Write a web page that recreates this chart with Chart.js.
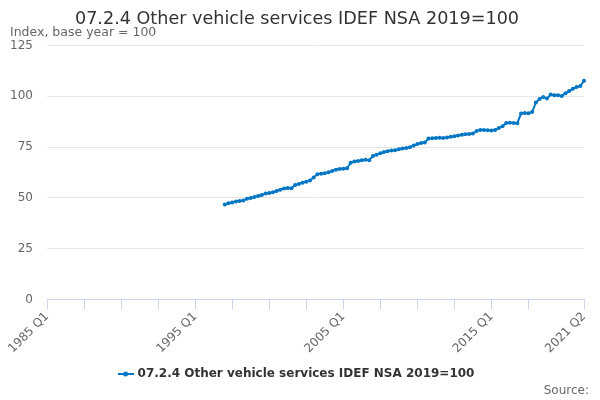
<!DOCTYPE html>
<html>
<head>
<meta charset="utf-8">
<script src="https://cdn.jsdelivr.net/npm/chart.js@4"></script>
<style>
  html, body { margin: 0; padding: 0; background: #fff; }
  #wrap { width: 600px; height: 400px; position: relative; }
</style>
</head>
<body>
<div id="wrap"><canvas id="chart"></canvas></div>
<script>
const chartTitle = "07.2.4 Other vehicle services IDEF NSA 2019=100";
const unitLabel = "Index, base year = 100";
const seriesName = "07.2.4 Other vehicle services IDEF NSA 2019=100";
const firstYear = 1985;
const lastYear = 2021;
const lastQuarter = 2;
const dataStart = "1997 Q1";
const yTicks = [0, 25, 50, 75, 100, 125];

// quarterly index values from 1997 Q1 to 2021 Q2
const values = [
  46.8, 47.4, 47.8, 48.2, 48.5, 48.7, 49.6, 50.0, 50.4, 50.9,
  51.4, 52.2, 52.4, 52.8, 53.4, 54.0, 54.6, 54.9, 54.7, 56.4,
  56.9, 57.5, 57.9, 58.6, 60.1, 61.6, 61.9, 62.2, 62.6, 63.3,
  63.9, 64.2, 64.4, 64.6, 67.3, 67.9, 68.2, 68.5, 68.8, 68.6,
  70.6, 71.3, 72.0, 72.6, 73.0, 73.3, 73.5, 74.0, 74.3, 74.6,
  74.9, 75.8, 76.5, 77.0, 77.3, 79.2, 79.4, 79.5, 79.6, 79.5,
  79.8, 80.1, 80.4, 80.7, 81.1, 81.4, 81.5, 81.7, 82.9, 83.5,
  83.4, 83.3, 83.2, 83.4, 84.4, 85.3, 86.9, 87.0, 86.9, 86.8,
  91.6, 91.8, 91.7, 92.3, 97.0, 98.7, 99.7, 98.9, 100.9, 100.6,
  100.5, 100.2, 101.5, 102.6, 103.7, 104.6, 105.1, 107.7
];

const labels = [];
for (let y = firstYear; y <= lastYear; y++) {
  for (let q = 1; q <= 4; q++) {
    if (y === lastYear && q > lastQuarter) break;
    labels.push(y + " Q" + q);
  }
}
const offset = labels.indexOf(dataStart);
const seriesData = labels.map((l, i) => (i >= offset ? values[i - offset] : null));
const lastIdx = labels.length - 1;

const blue = "#0076c4";
const fontFamily = "'DejaVu Sans', sans-serif";

// legend symbol: short line with a dot, like the original
function legendSymbol() {
  const c = document.createElement("canvas");
  c.width = 16; c.height = 8;
  const g = c.getContext("2d");
  g.strokeStyle = blue; g.lineWidth = 2;
  g.beginPath(); g.moveTo(0, 4); g.lineTo(16, 4); g.stroke();
  g.fillStyle = blue;
  g.beginPath(); g.arc(8, 4, 2.5, 0, Math.PI * 2); g.fill();
  return c;
}

const sourceNote = {
  id: "sourceNote",
  afterDraw(chart) {
    const c = chart.ctx;
    c.save();
    c.font = "12px " + fontFamily;
    c.fillStyle = "#666";
    c.textAlign = "right";
    c.textBaseline = "alphabetic";
    c.fillText("Source:", chart.width - 11, chart.height - 6);
    c.restore();
  }
};

new Chart(document.getElementById("chart"), {
  type: "line",
  data: {
    labels: labels,
    datasets: [{
      label: seriesName,
      data: seriesData,
      borderColor: blue,
      backgroundColor: blue,
      borderWidth: 2,
      pointRadius: 2,
      pointBorderWidth: 0,
      pointStyle: "circle",
      tension: 0
    }]
  },
  options: {
    responsive: true,
    maintainAspectRatio: false,
    animation: false,
    devicePixelRatio: 1,
    layout: { padding: { left: 10, right: 16, top: 0, bottom: 10 } },
    plugins: {
      title: {
        display: true,
        text: chartTitle,
        color: "#333",
        font: { family: fontFamily, size: 17.6, weight: "normal", lineHeight: 1 },
        padding: { top: 11, bottom: -2 }
      },
      subtitle: {
        display: true,
        text: unitLabel,
        align: "start",
        color: "#666",
        font: { family: fontFamily, size: 12.5, lineHeight: 1 },
        padding: { top: 0, bottom: 6.5 }
      },
      legend: {
        position: "bottom",
        labels: {
          color: "#333",
          font: { family: fontFamily, size: 12, weight: "bold" },
          usePointStyle: true,
          pointStyle: legendSymbol(),
          padding: 12
        }
      },
      tooltip: { enabled: false }
    },
    scales: {
      x: {
        type: "category",
        grid: {
          display: true,
          drawOnChartArea: false,
          drawTicks: true,
          tickLength: 10,
          color: "#ccd6eb"
        },
        border: { color: "#ccd6eb" },
        afterBuildTicks(scale) {
          scale.ticks = scale.ticks.filter(t =>
            (t.value % 10 === 0 && t.value < 140) || t.value === lastIdx);
        },
        afterFit(scale) {
          scale.paddingLeft = 0;
        },
        ticks: {
          autoSkip: false,
          minRotation: 45,
          maxRotation: 45,
          color: "#666",
          font: { family: fontFamily, size: 12 },
          padding: 0,
          callback(val) {
            return (val % 40 === 0 || val === lastIdx) ? labels[val] : "";
          }
        }
      },
      y: {
        min: 0,
        max: 125,
        afterBuildTicks(scale) {
          scale.ticks = yTicks.map(v => ({ value: v }));
        },
        // fixed width so the plot starts where the original does
        afterFit(scale) {
          scale.width = 37;
        },
        grid: { color: "#e6e6e6", drawTicks: false },
        border: { display: false },
        ticks: {
          color: "#666",
          font: { family: fontFamily, size: 12 },
          padding: 14
        }
      }
    }
  },
  plugins: [sourceNote]
});
</script>
</body>
</html>
